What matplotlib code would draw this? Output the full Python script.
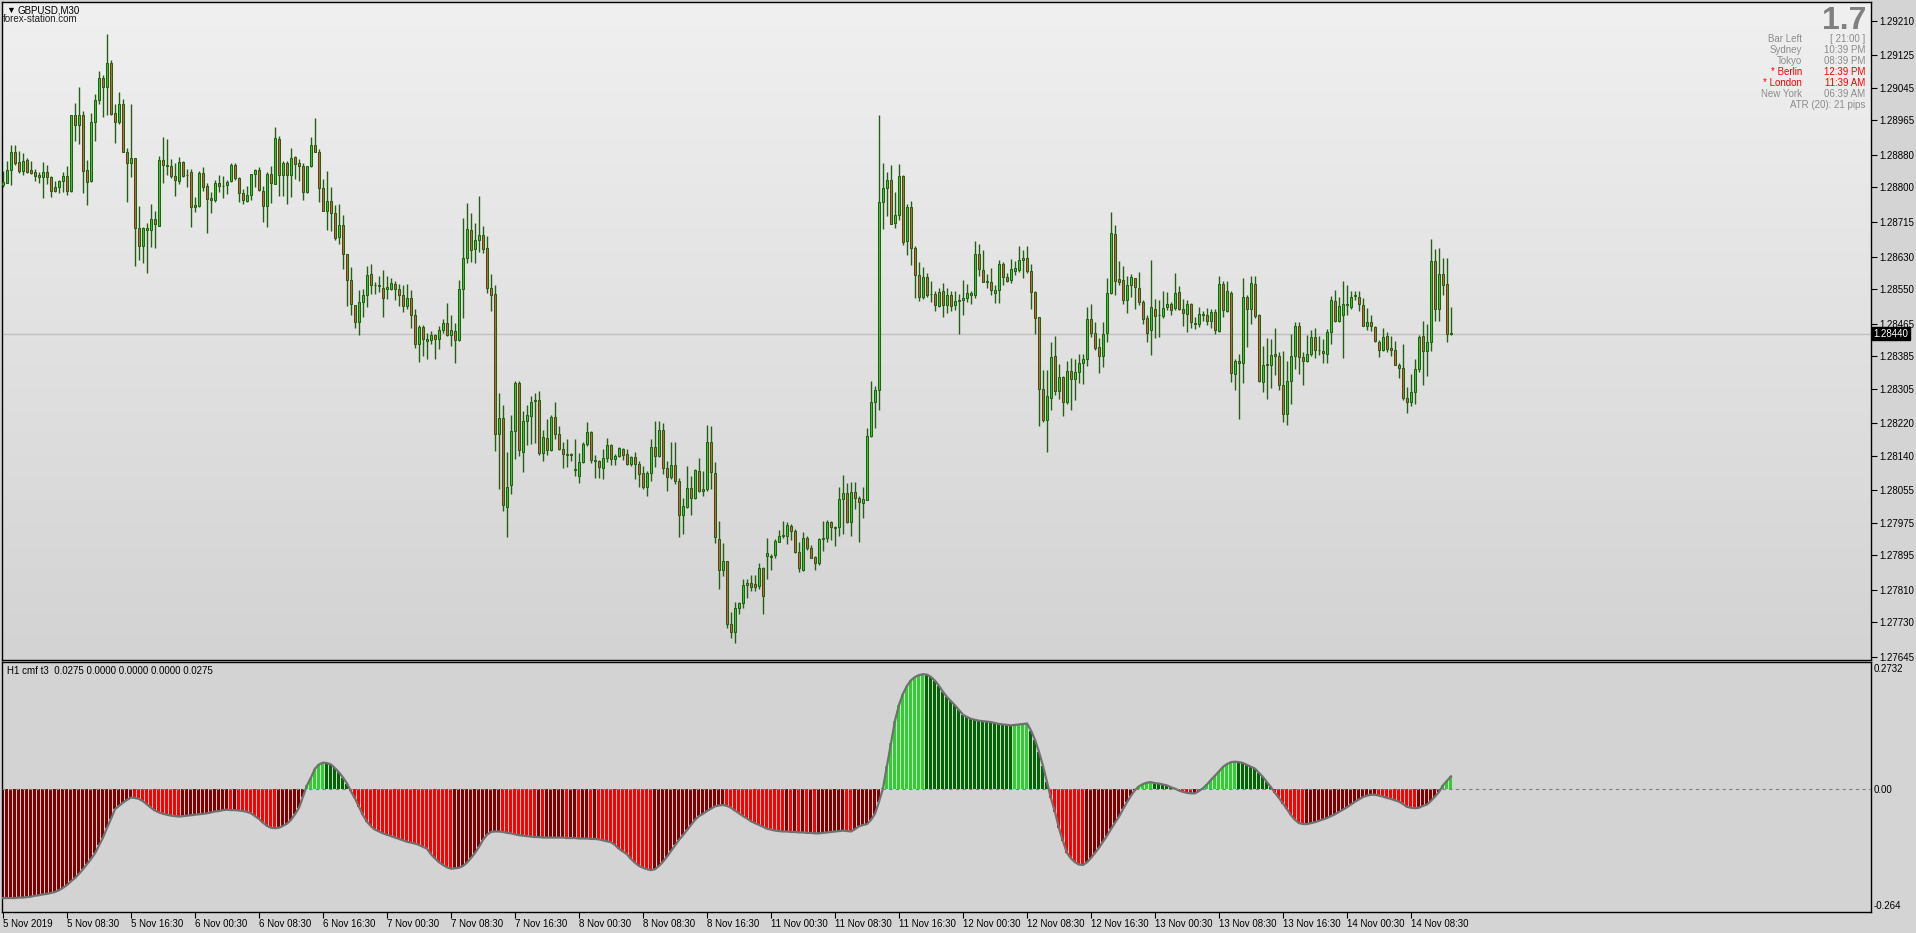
import matplotlib
matplotlib.use("Agg")
import matplotlib.pyplot as plt
import numpy as np
from matplotlib.colors import LinearSegmentedColormap

plt.rcParams['font.family'] = ['Liberation Sans', 'DejaVu Sans']

# ---------------- data ----------------
open_ = [1.28806, 1.28812, 1.28844, 1.28888, 1.28863, 1.28841, 1.28868, 1.28842, 1.28837, 1.28830,
 1.28825, 1.28839, 1.28825, 1.28801, 1.28801, 1.28816, 1.28829, 1.28791, 1.28977, 1.28953,
 1.28979, 1.28842, 1.28816, 1.28960, 1.29014, 1.29068, 1.29046, 1.29106, 1.28982, 1.28960,
 1.29006, 1.28888, 1.28859, 1.28873, 1.28699, 1.28655, 1.28696, 1.28694, 1.28722, 1.28706,
 1.28868, 1.28854, 1.28853, 1.28829, 1.28816, 1.28862, 1.28830, 1.28839, 1.28756, 1.28755,
 1.28835, 1.28803, 1.28775, 1.28770, 1.28812, 1.28803, 1.28805, 1.28815, 1.28854, 1.28822,
 1.28785, 1.28766, 1.28782, 1.28832, 1.28842, 1.28792, 1.28754, 1.28834, 1.28809, 1.28920,
 1.28830, 1.28860, 1.28830, 1.28875, 1.28859, 1.28852, 1.28789, 1.28852, 1.28904, 1.28888,
 1.28798, 1.28743, 1.28767, 1.28736, 1.28678, 1.28708, 1.28635, 1.28572, 1.28511, 1.28468,
 1.28519, 1.28536, 1.28587, 1.28561, 1.28559, 1.28553, 1.28551, 1.28551, 1.28563, 1.28551,
 1.28536, 1.28508, 1.28529, 1.28486, 1.28415, 1.28457, 1.28428, 1.28424, 1.28436, 1.28426,
 1.28450, 1.28467, 1.28437, 1.28447, 1.28425, 1.28551, 1.28627, 1.28696, 1.28649, 1.28671,
 1.28683, 1.28650, 1.28553, 1.28539, 1.28193, 1.28233, 1.28015, 1.28067, 1.28201, 1.28320,
 1.28150, 1.28225, 1.28237, 1.28274, 1.28277, 1.28147, 1.28183, 1.28153, 1.28235, 1.28193,
 1.28157, 1.28144, 1.28143, 1.28106, 1.28090, 1.28124, 1.28170, 1.28198, 1.28129, 1.28127,
 1.28110, 1.28134, 1.28167, 1.28131, 1.28140, 1.28157, 1.28144, 1.28119, 1.28137, 1.28119,
 1.28097, 1.28063, 1.28097, 1.28162, 1.28140, 1.28203, 1.28109, 1.28087, 1.28117, 1.28077,
 1.27994, 1.28014, 1.28060, 1.28037, 1.28103, 1.28053, 1.28058, 1.28173, 1.28097, 1.27936,
 1.27858, 1.27881, 1.27725, 1.27707, 1.27765, 1.27777, 1.27821, 1.27826, 1.27824, 1.27819,
 1.27864, 1.27893, 1.27894, 1.27897, 1.27929, 1.27943, 1.27943, 1.27967, 1.27954, 1.27904,
 1.27858, 1.27937, 1.27912, 1.27890, 1.27875, 1.27935, 1.27938, 1.27976, 1.27964, 1.27964,
 1.28033, 1.28048, 1.27976, 1.28051, 1.28036, 1.28023, 1.28031, 1.28188, 1.28272, 1.28302,
 1.28763, 1.28799, 1.28817, 1.28713, 1.28733, 1.28827, 1.28669, 1.28751, 1.28652, 1.28585,
 1.28531, 1.28580, 1.28537, 1.28538, 1.28509, 1.28544, 1.28511, 1.28536, 1.28511, 1.28521,
 1.28522, 1.28527, 1.28536, 1.28536, 1.28635, 1.28597, 1.28568, 1.28568, 1.28541, 1.28548,
 1.28611, 1.28580, 1.28573, 1.28594, 1.28597, 1.28622, 1.28627, 1.28595, 1.28543, 1.28481,
 1.28305, 1.28227, 1.28282, 1.28386, 1.28299, 1.28334, 1.28272, 1.28349, 1.28328, 1.28346,
 1.28369, 1.28377, 1.28477, 1.28442, 1.28408, 1.28385, 1.28442, 1.28541, 1.28686, 1.28575,
 1.28572, 1.28524, 1.28559, 1.28577, 1.28553, 1.28519, 1.28479, 1.28449, 1.28501, 1.28485,
 1.28484, 1.28506, 1.28514, 1.28503, 1.28543, 1.28501, 1.28489, 1.28514, 1.28466, 1.28464,
 1.28489, 1.28486, 1.28472, 1.28494, 1.28447, 1.28563, 1.28497, 1.28541, 1.28342, 1.28373,
 1.28369, 1.28531, 1.28501, 1.28563, 1.28486, 1.28322, 1.28365, 1.28364, 1.28390, 1.28385,
 1.28314, 1.28243, 1.28324, 1.28385, 1.28460, 1.28382, 1.28372, 1.28390, 1.28432, 1.28399,
 1.28398, 1.28390, 1.28445, 1.28521, 1.28472, 1.28486, 1.28511, 1.28507, 1.28534, 1.28531,
 1.28511, 1.28460, 1.28468, 1.28457, 1.28420, 1.28400, 1.28434, 1.28405, 1.28400, 1.28364,
 1.28357, 1.28281, 1.28271, 1.28296, 1.28354, 1.28435, 1.28398, 1.28420, 1.28618, 1.28502,
 1.28588, 1.28562, 1.28441]

high = [1.28841, 1.28864, 1.28904, 1.28904, 1.28889, 1.28884, 1.28872, 1.28865, 1.28846, 1.28838,
 1.28863, 1.28855, 1.28828, 1.28816, 1.28818, 1.28838, 1.28853, 1.28978, 1.29007, 1.29047,
 1.28987, 1.28867, 1.28983, 1.29030, 1.29086, 1.29076, 1.29177, 1.29113, 1.29006, 1.29034,
 1.29017, 1.28897, 1.29005, 1.28873, 1.28754, 1.28702, 1.28712, 1.28758, 1.28742, 1.28878,
 1.28925, 1.28919, 1.28871, 1.28859, 1.28874, 1.28866, 1.28845, 1.28846, 1.28777, 1.28840,
 1.28850, 1.28811, 1.28789, 1.28818, 1.28830, 1.28828, 1.28819, 1.28859, 1.28859, 1.28825,
 1.28795, 1.28803, 1.28834, 1.28846, 1.28849, 1.28804, 1.28838, 1.28852, 1.28949, 1.28926,
 1.28864, 1.28864, 1.28898, 1.28878, 1.28870, 1.28860, 1.28853, 1.28925, 1.28970, 1.28895,
 1.28820, 1.28840, 1.28801, 1.28757, 1.28758, 1.28731, 1.28635, 1.28603, 1.28511, 1.28548,
 1.28549, 1.28606, 1.28611, 1.28568, 1.28581, 1.28598, 1.28581, 1.28576, 1.28569, 1.28563,
 1.28559, 1.28562, 1.28548, 1.28500, 1.28462, 1.28462, 1.28443, 1.28446, 1.28440, 1.28458,
 1.28477, 1.28515, 1.28487, 1.28467, 1.28573, 1.28724, 1.28762, 1.28737, 1.28712, 1.28780,
 1.28706, 1.28681, 1.28586, 1.28561, 1.28295, 1.28264, 1.28150, 1.28239, 1.28323, 1.28325,
 1.28249, 1.28266, 1.28287, 1.28295, 1.28300, 1.28203, 1.28230, 1.28239, 1.28273, 1.28213,
 1.28173, 1.28180, 1.28147, 1.28180, 1.28146, 1.28173, 1.28224, 1.28200, 1.28143, 1.28130,
 1.28157, 1.28184, 1.28170, 1.28145, 1.28161, 1.28160, 1.28157, 1.28139, 1.28149, 1.28127,
 1.28115, 1.28102, 1.28180, 1.28226, 1.28226, 1.28221, 1.28127, 1.28173, 1.28173, 1.28085,
 1.28037, 1.28115, 1.28089, 1.28108, 1.28135, 1.28103, 1.28216, 1.28212, 1.28125, 1.27979,
 1.27926, 1.27882, 1.27755, 1.27781, 1.27781, 1.27837, 1.27836, 1.27846, 1.27846, 1.27876,
 1.27867, 1.27937, 1.27899, 1.27935, 1.27957, 1.27980, 1.27976, 1.27973, 1.27959, 1.27927,
 1.27953, 1.27943, 1.27920, 1.27893, 1.27938, 1.27980, 1.27982, 1.27980, 1.27966, 1.28064,
 1.28093, 1.28072, 1.28076, 1.28076, 1.28040, 1.28062, 1.28207, 1.28323, 1.28312, 1.28979,
 1.28860, 1.28839, 1.28854, 1.28789, 1.28857, 1.28830, 1.28758, 1.28767, 1.28657, 1.28617,
 1.28605, 1.28590, 1.28570, 1.28545, 1.28552, 1.28566, 1.28553, 1.28546, 1.28544, 1.28539,
 1.28572, 1.28562, 1.28546, 1.28668, 1.28661, 1.28645, 1.28587, 1.28601, 1.28561, 1.28622,
 1.28617, 1.28590, 1.28624, 1.28620, 1.28655, 1.28646, 1.28655, 1.28611, 1.28545, 1.28481,
 1.28350, 1.28352, 1.28420, 1.28434, 1.28365, 1.28336, 1.28374, 1.28380, 1.28378, 1.28391,
 1.28391, 1.28507, 1.28512, 1.28468, 1.28430, 1.28468, 1.28578, 1.28739, 1.28707, 1.28618,
 1.28606, 1.28583, 1.28586, 1.28578, 1.28591, 1.28522, 1.28486, 1.28622, 1.28525, 1.28522,
 1.28545, 1.28542, 1.28517, 1.28590, 1.28558, 1.28525, 1.28522, 1.28515, 1.28481, 1.28507,
 1.28495, 1.28503, 1.28502, 1.28501, 1.28583, 1.28569, 1.28569, 1.28544, 1.28378, 1.28391,
 1.28576, 1.28536, 1.28582, 1.28582, 1.28488, 1.28410, 1.28429, 1.28426, 1.28453, 1.28395,
 1.28398, 1.28372, 1.28440, 1.28468, 1.28468, 1.28395, 1.28436, 1.28449, 1.28455, 1.28434,
 1.28426, 1.28451, 1.28534, 1.28547, 1.28531, 1.28569, 1.28559, 1.28544, 1.28544, 1.28544,
 1.28527, 1.28503, 1.28485, 1.28460, 1.28425, 1.28455, 1.28445, 1.28435, 1.28423, 1.28369,
 1.28414, 1.28309, 1.28342, 1.28379, 1.28437, 1.28472, 1.28463, 1.28673, 1.28648, 1.28651,
 1.28627, 1.28627, 1.28505]

low = [1.28801, 1.28811, 1.28806, 1.28854, 1.28836, 1.28830, 1.28836, 1.28833, 1.28816, 1.28811,
 1.28774, 1.28809, 1.28776, 1.28788, 1.28786, 1.28788, 1.28781, 1.28788, 1.28915, 1.28907,
 1.28786, 1.28757, 1.28814, 1.28915, 1.29004, 1.28974, 1.28979, 1.28979, 1.28910, 1.28955,
 1.28888, 1.28765, 1.28826, 1.28607, 1.28621, 1.28613, 1.28589, 1.28653, 1.28652, 1.28705,
 1.28811, 1.28831, 1.28823, 1.28779, 1.28809, 1.28826, 1.28801, 1.28703, 1.28739, 1.28752,
 1.28792, 1.28688, 1.28738, 1.28764, 1.28789, 1.28774, 1.28784, 1.28813, 1.28819, 1.28765,
 1.28758, 1.28765, 1.28768, 1.28801, 1.28790, 1.28715, 1.28703, 1.28761, 1.28808, 1.28779,
 1.28780, 1.28760, 1.28776, 1.28820, 1.28816, 1.28769, 1.28787, 1.28851, 1.28887, 1.28764,
 1.28741, 1.28695, 1.28692, 1.28670, 1.28662, 1.28599, 1.28508, 1.28486, 1.28454, 1.28437,
 1.28482, 1.28506, 1.28539, 1.28539, 1.28542, 1.28481, 1.28526, 1.28547, 1.28522, 1.28509,
 1.28494, 1.28501, 1.28453, 1.28405, 1.28371, 1.28385, 1.28377, 1.28416, 1.28377, 1.28402,
 1.28441, 1.28434, 1.28410, 1.28368, 1.28422, 1.28479, 1.28615, 1.28617, 1.28614, 1.28641,
 1.28638, 1.28541, 1.28496, 1.28151, 1.28058, 1.28005, 1.27939, 1.28047, 1.28131, 1.28140,
 1.28099, 1.28166, 1.28169, 1.28172, 1.28141, 1.28126, 1.28142, 1.28151, 1.28180, 1.28155,
 1.28111, 1.28113, 1.28126, 1.28090, 1.28074, 1.28123, 1.28163, 1.28121, 1.28086, 1.28086,
 1.28083, 1.28124, 1.28118, 1.28116, 1.28138, 1.28129, 1.28117, 1.28114, 1.28084, 1.28063,
 1.28058, 1.28042, 1.28077, 1.28113, 1.28137, 1.28094, 1.28053, 1.28082, 1.28070, 1.27939,
 1.27947, 1.28012, 1.27994, 1.28034, 1.28052, 1.28042, 1.28054, 1.28058, 1.27926, 1.27812,
 1.27845, 1.27717, 1.27691, 1.27680, 1.27750, 1.27766, 1.27790, 1.27808, 1.27807, 1.27813,
 1.27750, 1.27836, 1.27858, 1.27889, 1.27929, 1.27938, 1.27922, 1.27932, 1.27902, 1.27853,
 1.27856, 1.27909, 1.27888, 1.27858, 1.27872, 1.27905, 1.27928, 1.27932, 1.27917, 1.27942,
 1.27948, 1.27974, 1.27942, 1.28008, 1.27927, 1.27988, 1.28030, 1.28185, 1.28209, 1.28252,
 1.28698, 1.28729, 1.28709, 1.28700, 1.28720, 1.28659, 1.28633, 1.28608, 1.28528, 1.28521,
 1.28526, 1.28530, 1.28517, 1.28496, 1.28507, 1.28481, 1.28491, 1.28496, 1.28498, 1.28439,
 1.28487, 1.28519, 1.28514, 1.28529, 1.28583, 1.28567, 1.28552, 1.28535, 1.28516, 1.28516,
 1.28559, 1.28568, 1.28564, 1.28584, 1.28592, 1.28577, 1.28589, 1.28501, 1.28439, 1.28213,
 1.28222, 1.28150, 1.28252, 1.28289, 1.28279, 1.28237, 1.28267, 1.28252, 1.28276, 1.28318,
 1.28317, 1.28361, 1.28432, 1.28400, 1.28343, 1.28358, 1.28419, 1.28537, 1.28535, 1.28561,
 1.28512, 1.28492, 1.28531, 1.28502, 1.28511, 1.28463, 1.28420, 1.28387, 1.28430, 1.28432,
 1.28479, 1.28498, 1.28486, 1.28499, 1.28498, 1.28460, 1.28444, 1.28454, 1.28452, 1.28456,
 1.28472, 1.28462, 1.28453, 1.28439, 1.28445, 1.28481, 1.28494, 1.28321, 1.28302, 1.28230,
 1.28318, 1.28408, 1.28465, 1.28479, 1.28321, 1.28296, 1.28279, 1.28307, 1.28338, 1.28302,
 1.28224, 1.28215, 1.28267, 1.28354, 1.28341, 1.28314, 1.28371, 1.28385, 1.28380, 1.28387,
 1.28368, 1.28369, 1.28415, 1.28470, 1.28470, 1.28380, 1.28486, 1.28501, 1.28522, 1.28497,
 1.28458, 1.28450, 1.28448, 1.28420, 1.28382, 1.28397, 1.28394, 1.28386, 1.28362, 1.28331,
 1.28276, 1.28245, 1.28262, 1.28267, 1.28346, 1.28314, 1.28336, 1.28398, 1.28471, 1.28471,
 1.28535, 1.28419, 1.28436]

close = [1.28813, 1.28844, 1.28888, 1.28861, 1.28841, 1.28866, 1.28839, 1.28835, 1.28829, 1.28825,
 1.28839, 1.28826, 1.28792, 1.28792, 1.28816, 1.28829, 1.28791, 1.28977, 1.28953, 1.28979,
 1.28841, 1.28814, 1.28960, 1.29014, 1.29070, 1.29046, 1.29106, 1.28981, 1.28960, 1.29006,
 1.28888, 1.28859, 1.28873, 1.28699, 1.28655, 1.28699, 1.28699, 1.28722, 1.28709, 1.28868,
 1.28854, 1.28853, 1.28829, 1.28817, 1.28862, 1.28829, 1.28830, 1.28751, 1.28751, 1.28835,
 1.28802, 1.28772, 1.28769, 1.28812, 1.28803, 1.28803, 1.28814, 1.28854, 1.28822, 1.28786,
 1.28768, 1.28782, 1.28832, 1.28844, 1.28793, 1.28754, 1.28834, 1.28811, 1.28921, 1.28830,
 1.28861, 1.28830, 1.28873, 1.28857, 1.28853, 1.28789, 1.28852, 1.28905, 1.28888, 1.28798,
 1.28743, 1.28767, 1.28736, 1.28676, 1.28708, 1.28635, 1.28573, 1.28512, 1.28468, 1.28519,
 1.28535, 1.28585, 1.28561, 1.28559, 1.28558, 1.28527, 1.28554, 1.28566, 1.28549, 1.28536,
 1.28508, 1.28529, 1.28486, 1.28415, 1.28457, 1.28427, 1.28422, 1.28436, 1.28427, 1.28450,
 1.28467, 1.28436, 1.28449, 1.28425, 1.28551, 1.28627, 1.28698, 1.28647, 1.28671, 1.28683,
 1.28649, 1.28553, 1.28536, 1.28193, 1.28233, 1.28018, 1.28063, 1.28201, 1.28320, 1.28153,
 1.28225, 1.28239, 1.28272, 1.28277, 1.28146, 1.28185, 1.28153, 1.28235, 1.28193, 1.28157,
 1.28144, 1.28143, 1.28142, 1.28105, 1.28124, 1.28170, 1.28198, 1.28129, 1.28128, 1.28112,
 1.28134, 1.28167, 1.28131, 1.28140, 1.28159, 1.28142, 1.28119, 1.28137, 1.28119, 1.28094,
 1.28063, 1.28098, 1.28162, 1.28140, 1.28203, 1.28109, 1.28087, 1.28117, 1.28077, 1.27995,
 1.28016, 1.28060, 1.28037, 1.28105, 1.28053, 1.28058, 1.28173, 1.28099, 1.27939, 1.27858,
 1.27880, 1.27725, 1.27707, 1.27765, 1.27777, 1.27821, 1.27826, 1.27816, 1.27818, 1.27864,
 1.27796, 1.27901, 1.27892, 1.27930, 1.27942, 1.27944, 1.27970, 1.27954, 1.27904, 1.27864,
 1.27937, 1.27912, 1.27889, 1.27875, 1.27935, 1.27937, 1.27976, 1.27964, 1.27963, 1.28034,
 1.28048, 1.27976, 1.28051, 1.28036, 1.28025, 1.28034, 1.28188, 1.28272, 1.28302, 1.28763,
 1.28799, 1.28817, 1.28711, 1.28733, 1.28827, 1.28666, 1.28751, 1.28652, 1.28584, 1.28531,
 1.28580, 1.28536, 1.28538, 1.28511, 1.28543, 1.28511, 1.28536, 1.28508, 1.28521, 1.28522,
 1.28527, 1.28541, 1.28541, 1.28635, 1.28599, 1.28568, 1.28568, 1.28547, 1.28548, 1.28611,
 1.28580, 1.28571, 1.28599, 1.28601, 1.28622, 1.28627, 1.28594, 1.28543, 1.28479, 1.28305,
 1.28227, 1.28288, 1.28384, 1.28299, 1.28334, 1.28272, 1.28349, 1.28328, 1.28347, 1.28369,
 1.28378, 1.28477, 1.28442, 1.28405, 1.28385, 1.28440, 1.28541, 1.28688, 1.28570, 1.28567,
 1.28524, 1.28559, 1.28580, 1.28554, 1.28518, 1.28477, 1.28443, 1.28506, 1.28484, 1.28485,
 1.28504, 1.28514, 1.28499, 1.28541, 1.28501, 1.28491, 1.28514, 1.28468, 1.28465, 1.28489,
 1.28486, 1.28472, 1.28494, 1.28450, 1.28563, 1.28499, 1.28544, 1.28344, 1.28373, 1.28367,
 1.28531, 1.28501, 1.28566, 1.28483, 1.28325, 1.28364, 1.28364, 1.28388, 1.28386, 1.28314,
 1.28243, 1.28324, 1.28385, 1.28460, 1.28384, 1.28372, 1.28390, 1.28433, 1.28400, 1.28400,
 1.28393, 1.28445, 1.28524, 1.28472, 1.28509, 1.28514, 1.28511, 1.28531, 1.28535, 1.28512,
 1.28459, 1.28468, 1.28458, 1.28421, 1.28400, 1.28433, 1.28403, 1.28400, 1.28364, 1.28357,
 1.28281, 1.28271, 1.28297, 1.28354, 1.28433, 1.28398, 1.28420, 1.28618, 1.28502, 1.28588,
 1.28559, 1.28440, 1.28440]

cmf = [-0.234, -0.234, -0.234, -0.234, -0.233, -0.233, -0.232, -0.231, -0.229, -0.228,
 -0.226, -0.225, -0.223, -0.221, -0.217, -0.212, -0.206, -0.198, -0.191, -0.182,
 -0.172, -0.161, -0.150, -0.138, -0.121, -0.104, -0.083, -0.064, -0.043, -0.036,
 -0.029, -0.023, -0.018, -0.019, -0.021, -0.026, -0.033, -0.040, -0.046, -0.050,
 -0.053, -0.055, -0.057, -0.058, -0.059, -0.058, -0.057, -0.056, -0.055, -0.054,
 -0.053, -0.052, -0.050, -0.048, -0.047, -0.045, -0.044, -0.045, -0.045, -0.046,
 -0.047, -0.049, -0.052, -0.058, -0.064, -0.072, -0.079, -0.083, -0.084, -0.083,
 -0.079, -0.074, -0.066, -0.054, -0.040, -0.016, 0.008, 0.025, 0.044, 0.053,
 0.057, 0.056, 0.053, 0.045, 0.036, 0.025, 0.012, -0.005, -0.020, -0.038,
 -0.056, -0.070, -0.080, -0.087, -0.091, -0.095, -0.098, -0.101, -0.104, -0.107,
 -0.110, -0.113, -0.115, -0.117, -0.120, -0.124, -0.128, -0.140, -0.149, -0.157,
 -0.163, -0.168, -0.171, -0.170, -0.169, -0.165, -0.158, -0.148, -0.137, -0.124,
 -0.109, -0.098, -0.092, -0.091, -0.091, -0.092, -0.094, -0.095, -0.097, -0.099,
 -0.100, -0.101, -0.102, -0.103, -0.103, -0.104, -0.104, -0.104, -0.104, -0.104,
 -0.104, -0.105, -0.105, -0.105, -0.106, -0.106, -0.106, -0.107, -0.107, -0.108,
 -0.110, -0.112, -0.114, -0.120, -0.128, -0.134, -0.140, -0.150, -0.158, -0.165,
 -0.169, -0.172, -0.174, -0.172, -0.165, -0.156, -0.145, -0.133, -0.121, -0.109,
 -0.099, -0.088, -0.077, -0.066, -0.058, -0.053, -0.047, -0.042, -0.037, -0.035,
 -0.034, -0.036, -0.040, -0.046, -0.052, -0.058, -0.063, -0.069, -0.073, -0.077,
 -0.081, -0.085, -0.087, -0.089, -0.090, -0.091, -0.091, -0.092, -0.092, -0.093,
 -0.093, -0.094, -0.094, -0.095, -0.095, -0.094, -0.093, -0.092, -0.091, -0.090,
 -0.089, -0.090, -0.091, -0.086, -0.080, -0.077, -0.075, -0.066, -0.053, -0.027,
 0.002, 0.050, 0.099, 0.147, 0.181, 0.205, 0.222, 0.234, 0.241, 0.245,
 0.247, 0.246, 0.241, 0.233, 0.222, 0.209, 0.198, 0.189, 0.180, 0.170,
 0.160, 0.155, 0.151, 0.149, 0.147, 0.146, 0.145, 0.144, 0.142, 0.140,
 0.139, 0.138, 0.137, 0.138, 0.139, 0.140, 0.141, 0.126, 0.106, 0.080,
 0.050, 0.015, -0.020, -0.049, -0.084, -0.112, -0.137, -0.149, -0.157, -0.162,
 -0.163, -0.157, -0.148, -0.137, -0.126, -0.113, -0.100, -0.086, -0.072, -0.059,
 -0.043, -0.028, -0.014, -0.002, 0.006, 0.011, 0.014, 0.015, 0.013, 0.012,
 0.010, 0.008, 0.004, 0.001, -0.003, -0.006, -0.008, -0.009, -0.009, -0.004,
 0.002, 0.010, 0.020, 0.029, 0.038, 0.048, 0.054, 0.058, 0.059, 0.058,
 0.056, 0.052, 0.048, 0.044, 0.035, 0.026, 0.015, 0.004, -0.008, -0.019,
 -0.031, -0.043, -0.056, -0.066, -0.073, -0.075, -0.075, -0.073, -0.071, -0.068,
 -0.065, -0.062, -0.058, -0.054, -0.049, -0.044, -0.039, -0.033, -0.027, -0.022,
 -0.017, -0.014, -0.012, -0.012, -0.014, -0.016, -0.019, -0.021, -0.024, -0.027,
 -0.032, -0.038, -0.040, -0.041, -0.040, -0.036, -0.033, -0.025, -0.016, -0.006,
 0.008, 0.018, 0.0275]

price_ticks = [1.29210, 1.29125, 1.29045, 1.28965, 1.28880, 1.28800, 1.28715, 1.28630,
               1.28550, 1.28465, 1.28385, 1.28305, 1.28220, 1.28140, 1.28055, 1.27975,
               1.27895, 1.27810, 1.27730, 1.27645]
time_labels = ["5 Nov 2019", "5 Nov 08:30", "5 Nov 16:30", "6 Nov 00:30", "6 Nov 08:30",
               "6 Nov 16:30", "7 Nov 00:30", "7 Nov 08:30", "7 Nov 16:30", "8 Nov 00:30",
               "8 Nov 08:30", "8 Nov 16:30", "11 Nov 00:30", "11 Nov 08:30", "11 Nov 16:30",
               "12 Nov 00:30", "12 Nov 08:30", "12 Nov 16:30", "13 Nov 00:30", "13 Nov 08:30",
               "13 Nov 16:30", "14 Nov 00:30", "14 Nov 08:30"]
current_price = 1.28440
cmf_top, cmf_bottom = 0.2732, -0.264
info_rows = [("Bar Left", "[ 21:00 ]", "#8C8C8C"),
             ("Sydney", "10:39 PM", "#8C8C8C"),
             ("Tokyo", "08:39 PM", "#8C8C8C"),
             ("* Berlin", "12:39 PM", "#FF0000"),
             ("* London", "11:39 AM", "#FF0000"),
             ("New York", "06:39 AM", "#8C8C8C")]

n = len(close)
for arr in (open_, high, low, cmf):
    assert len(arr) == n, len(arr)
idx = np.arange(n)
o = np.array(open_); h = np.array(high); l = np.array(low); c = np.array(close)

# ---------------- figure ----------------
W, H = 1916, 933
fig = plt.figure(figsize=(W / 100, H / 100), dpi=100, facecolor='#D4D4D4')

def ax_px(left, top, right, bottom):
    return fig.add_axes([left / W, 1 - bottom / H, (right - left) / W, (bottom - top) / H])

ax = ax_px(2, 2, 1871, 660)
ax2 = ax_px(2, 662, 1871, 912)

xmin, xmax = -0.25, 467.0
ymin, ymax = 1.276376, 1.292560

# background gradient
cmap = LinearSegmentedColormap.from_list('bg', ['#D3D3D3', '#F0F0F0'])
grad = np.linspace(0, 1, 256).reshape(-1, 1)
ax.imshow(grad, extent=[xmin, xmax, ymin, ymax], aspect='auto', cmap=cmap,
          origin='lower', zorder=0, interpolation='bilinear')

# current price line
ax.axhline(current_price, color='#C0C0C0', lw=1, zorder=1)

# candles
WICK = '#236012'
bull = c >= o
ax.vlines(idx, l, h, color=WICK, lw=1.0, zorder=2)
body_lo = np.minimum(o, c)
body_h = np.maximum(np.abs(c - o), 0.000015)
fills = np.where(bull, '#32CD32', '#E8583C')
ax.bar(idx, body_h, bottom=body_lo, width=0.55, color=fills, edgecolor=WICK,
       linewidth=0.75, zorder=3)

ax.set_xlim(xmin, xmax)
ax.set_ylim(ymin, ymax)
ax.set_xticks([])
ax.yaxis.tick_right()
ax.set_yticks(price_ticks)
ax.set_yticklabels([f"{p:.5f}" for p in price_ticks])
ax.tick_params(axis='y', length=4, width=0.8, colors='black', labelsize=7, pad=2)
for sp in ax.spines.values():
    sp.set_color('black'); sp.set_linewidth(1.0)

# current price tag
ax.text(1.0015, current_price, f"{current_price:.5f}", transform=ax.get_yaxis_transform(),
        ha='left', va='center', fontsize=7, color='white', zorder=10, clip_on=False,
        bbox=dict(boxstyle='square,pad=0.15', facecolor='black', edgecolor='black'))

# ---------------- indicator ----------------
ax2.set_facecolor('#D3D3D3')
vals = np.array(cmf)
cols = []
for k, v in enumerate(vals):
    rising = k == 0 or v >= vals[k - 1]
    if v >= 0:
        cols.append('#32CD32' if rising else '#006400')
    else:
        cols.append('#800000' if rising else '#FF0000')
ax2.bar(idx, vals, width=0.75, color=cols, linewidth=0, zorder=2,
        antialiased=False, snap=True)
ax2.plot(idx, vals, color='#707070', lw=1.6, zorder=3, solid_joinstyle='round')
ax2.axhline(0, color='#808080', lw=0.8, ls=(0, (3, 3)), zorder=4)

ax2.set_xlim(xmin, xmax)
ax2.set_ylim(cmf_bottom, cmf_top)
ax2.set_yticks([])
tick_pos = [16 * k for k in range(len(time_labels))]
ax2.set_xticks(tick_pos)
ax2.set_xticklabels(time_labels, ha='left')
ax2.tick_params(axis='x', length=4, width=0.8, colors='black', labelsize=7, pad=1)
for sp in ax2.spines.values():
    sp.set_color('black'); sp.set_linewidth(1.0)

# indicator scale labels
for val, ypx in ((cmf_top, 669), (0.0, 790), (cmf_bottom, 906)):
    txt = f"{val:.4f}" if val == cmf_top else ("0.00" if val == 0 else f"{val:.3f}")
    fig.text(1874 / W, 1 - ypx / H, txt, ha='left', va='center', fontsize=7, color='black')

ax2.text(5 / 1869, 1 - 9.5 / 250, "H1 cmf t3  0.0275 0.0000 0.0000 0.0000 0.0275",
         transform=ax2.transAxes, ha='left', va='center', fontsize=7, color='black')

# ---------------- texts ----------------
fig.text(6 / W, 1 - 10.5 / H, '\u25BC', ha='left', va='center', fontsize=6.5, color='black')
fig.text(18 / W, 1 - 10.5 / H, 'GBPUSD,M30', ha='left', va='center', fontsize=7, color='black')
fig.text(3 / W, 1 - 19.5 / H, 'forex-station.com', ha='left', va='center', fontsize=7, color='#222222')

fig.text(1866 / W, 1 - 21 / H, '1.7', ha='right', va='center', fontsize=23,
         fontweight='bold', color='#808080')
for r, (name, val, col) in enumerate(info_rows):
    y = 39 + 11 * r
    fig.text(1802 / W, 1 - y / H, name, ha='right', va='center', fontsize=7, color=col)
    fig.text(1865 / W, 1 - y / H, val, ha='right', va='center', fontsize=7, color=col)
fig.text(1865 / W, 1 - 105 / H, 'ATR (20): 21 pips', ha='right', va='center', fontsize=7,
         color='#8C8C8C')

fig.savefig('out.png', dpi=100, facecolor=fig.get_facecolor())
